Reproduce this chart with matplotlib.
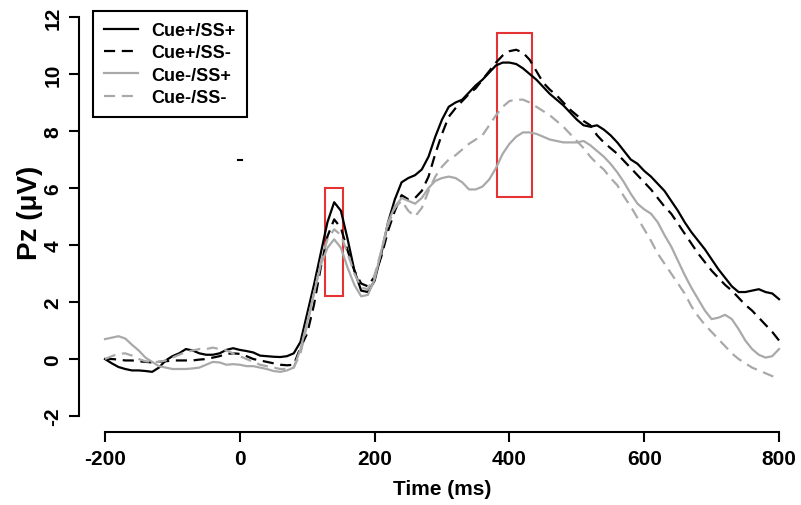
import numpy as np
import matplotlib
matplotlib.use('Agg')
import matplotlib.pyplot as plt
from matplotlib.patches import Rectangle

plt.rcParams['font.family'] = ['Liberation Sans', 'DejaVu Sans']
plt.rcParams['font.weight'] = 'bold'
plt.rcParams['axes.unicode_minus'] = False

# ERP at Pz, every 10 ms
time_ms = np.arange(-200, 801, 10)

cue_pos_ss_pos = [
    0.0, -0.15, -0.28, -0.35, -0.4, -0.4, -0.42, -0.45, -0.3, -0.05,
    0.1, 0.2, 0.35, 0.3, 0.2, 0.15, 0.15, 0.2, 0.32, 0.38,
    0.32, 0.28, 0.23, 0.12, 0.1, 0.08, 0.07, 0.1, 0.2, 0.6,
    1.6, 2.6, 3.7, 4.8, 5.5, 5.2, 4.2, 3.1, 2.4, 2.35,
    2.75, 3.7, 4.8, 5.6, 6.2, 6.35, 6.45, 6.65, 7.1, 7.8,
    8.4, 8.85, 9.0, 9.1, 9.35, 9.6, 9.8, 10.05, 10.3, 10.4,
    10.4, 10.35, 10.2, 10.0, 9.8, 9.55, 9.3, 9.1, 8.9, 8.65,
    8.4, 8.2, 8.15, 8.2, 8.05, 7.85, 7.6, 7.3, 7.0, 6.85,
    6.6, 6.4, 6.15, 5.9, 5.55, 5.2, 4.8, 4.45, 4.15, 3.85,
    3.5, 3.15, 2.85, 2.55, 2.35, 2.35, 2.4, 2.45, 2.35, 2.3,
    2.1]

cue_pos_ss_neg = [
    0.0, 0.0, -0.02, -0.05, -0.05, -0.08, -0.1, -0.12, -0.1, -0.08,
    -0.05, -0.05, -0.05, -0.05, -0.02, 0.0, 0.05, 0.1, 0.18, 0.2,
    0.18, 0.1, 0.0, -0.05, -0.1, -0.15, -0.2, -0.22, -0.2, 0.4,
    0.9, 1.9, 3.2, 4.3, 4.9, 4.6, 3.8, 3.1, 2.65, 2.55,
    2.9, 3.6, 4.5, 5.2, 5.75, 5.6, 5.65, 5.9, 6.4, 7.2,
    7.9, 8.5, 8.8, 9.05, 9.3, 9.5, 9.8, 10.1, 10.4, 10.65,
    10.8, 10.85, 10.75, 10.5, 10.1, 9.7, 9.45, 9.25, 9.0, 8.75,
    8.55, 8.35, 8.2, 7.85, 7.6, 7.4, 7.2, 6.95, 6.7, 6.45,
    6.2, 5.95, 5.65, 5.35, 5.1, 4.75, 4.4, 4.05, 3.7, 3.4,
    3.1, 2.85, 2.6, 2.4, 2.15, 1.9, 1.7, 1.45, 1.2, 0.95,
    0.65]

cue_neg_ss_pos = [
    0.7, 0.75, 0.8, 0.72, 0.5, 0.3, 0.05, -0.1, -0.25, -0.3,
    -0.35, -0.35, -0.35, -0.33, -0.3, -0.2, -0.1, -0.12, -0.2, -0.18,
    -0.2, -0.25, -0.25, -0.3, -0.35, -0.42, -0.45, -0.4, -0.3, 0.35,
    1.3, 2.3, 3.3, 3.9, 4.2, 3.9, 3.2, 2.6, 2.2, 2.25,
    2.8, 3.8, 4.8, 5.35, 5.65, 5.55, 5.45, 5.65, 6.0, 6.25,
    6.35, 6.4, 6.35, 6.2, 5.95, 5.95, 6.05, 6.3, 6.7, 7.2,
    7.55, 7.8, 7.95, 7.95, 7.9, 7.8, 7.7, 7.65, 7.6, 7.6,
    7.6, 7.65, 7.5, 7.3, 7.1, 6.85, 6.55, 6.2, 5.8, 5.45,
    5.25, 5.1, 4.8, 4.35, 3.95, 3.45, 2.95, 2.5, 2.1, 1.7,
    1.4, 1.45, 1.55, 1.4, 1.05, 0.65, 0.35, 0.15, 0.05, 0.1,
    0.35]

cue_neg_ss_neg = [
    0.0, 0.1, 0.18, 0.2, 0.12, 0.0, -0.08, -0.1, -0.1, -0.05,
    0.05, 0.15, 0.25, 0.3, 0.35, 0.35, 0.4, 0.35, 0.3, 0.2,
    0.1, 0.0, -0.1, -0.2, -0.25, -0.3, -0.35, -0.35, -0.3, 0.2,
    1.2, 2.3, 3.4, 4.2, 4.55, 4.35, 3.7, 3.0, 2.5, 2.45,
    2.95, 3.8, 4.7, 5.3, 5.55, 5.2, 5.0, 5.3, 5.9, 6.4,
    6.75, 7.0, 7.15, 7.35, 7.55, 7.7, 7.85, 8.2, 8.55, 8.85,
    9.05, 9.1, 9.1, 9.0, 8.85, 8.7, 8.55, 8.35, 8.15, 7.9,
    7.65, 7.4, 7.1, 6.85, 6.65, 6.35, 6.1, 5.7, 5.35, 4.95,
    4.55, 4.15, 3.7, 3.35, 3.0, 2.65, 2.3, 1.85, 1.5, 1.2,
    0.95, 0.7, 0.45, 0.2, 0.0, -0.15, -0.3, -0.4, -0.5, -0.6,
    -0.72]

labels = ['Cue+/SS+', 'Cue+/SS-', 'Cue-/SS+', 'Cue-/SS-']

# highlighted windows: (start ms, end ms, low uV, high uV)
windows = [(127, 153, 2.2, 6.0), (382, 433, 5.7, 11.45)]


fig = plt.figure(figsize=(8.01, 5.06), dpi=100)
ax = fig.add_axes([79 / 801, 73 / 506, 722 / 801, 423 / 506])

gray = '#a9a9a9'
dash = (0, (5, 3))
ax.plot(time_ms, cue_pos_ss_pos, color='black', lw=1.6, label=labels[0])
ax.plot(time_ms, cue_pos_ss_neg, color='black', lw=1.6, ls=dash, label=labels[1])
ax.plot(time_ms, cue_neg_ss_pos, color=gray, lw=1.6, label=labels[2])
ax.plot(time_ms, cue_neg_ss_neg, color=gray, lw=1.6, ls=dash, label=labels[3])

# little stray mark in the original
ax.plot([-3, 3], [7.0, 7.0], color='black', lw=1.5)

for t0, t1, lo, hi in windows:
    ax.add_patch(Rectangle((t0, lo), t1 - t0, hi - lo, fill=False,
                           edgecolor='#e53232', lw=1.5))

ax.set_xlim(-238.6, 832.6)
ax.set_ylim(-2.56, 12.28)
ax.set_xticks([-200, 0, 200, 400, 600, 800])
ax.set_yticks([-2, 0, 2, 4, 6, 8, 10, 12])
for side in ['top', 'right']:
    ax.spines[side].set_visible(False)
ax.spines['left'].set_bounds(-2, 12)
ax.spines['bottom'].set_bounds(-200, 800)
ax.spines['left'].set_linewidth(1.5)
ax.spines['bottom'].set_linewidth(1.5)
ax.tick_params(direction='out', length=7, width=1.5, labelsize=15, pad=5)
for lab in ax.get_yticklabels():
    lab.set_rotation(90)
    lab.set_va('center')
    lab.set_fontweight('bold')
for lab in ax.get_xticklabels():
    lab.set_fontweight('bold')

fig.text(442 / 801, 1 - 490 / 506, 'Time (ms)', ha='center', va='center',
         fontsize=15, fontweight='bold')
fig.text(30 / 801, 1 - 213 / 506, 'Pz (μV)', ha='center', va='center',
         rotation=90, fontsize=20, fontweight='bold')

leg = ax.legend(loc='upper left', bbox_to_anchor=(93 / 801, 1 - 12 / 506),
                bbox_transform=fig.transFigure, fancybox=False, framealpha=1,
                edgecolor='black', prop={'weight': 'bold', 'size': 13},
                handlelength=1.9, handletextpad=0.75, labelspacing=0.3,
                borderpad=0.6, borderaxespad=0)
leg.get_frame().set_linewidth(1.5)

fig.savefig('out.png', dpi=100)
